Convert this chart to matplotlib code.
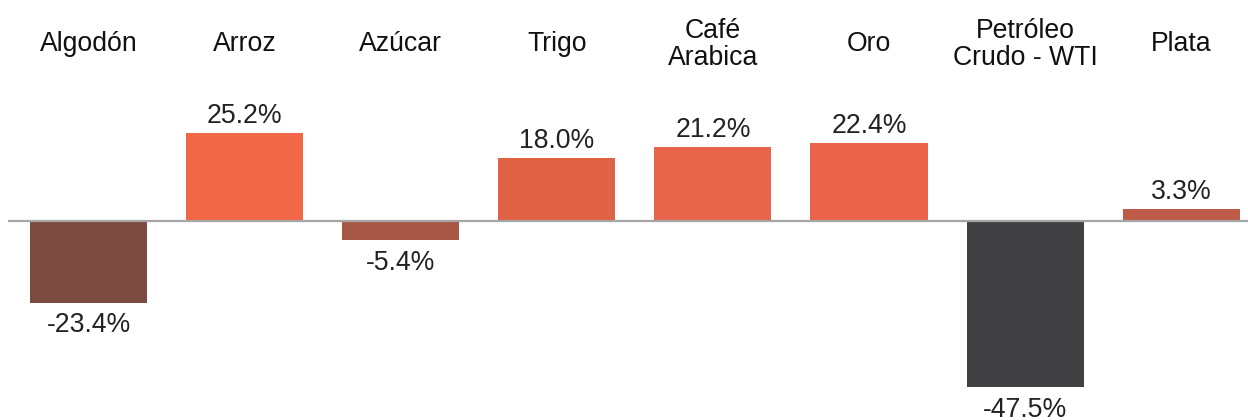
import matplotlib
matplotlib.use("Agg")
import matplotlib.pyplot as plt

categories = ["Algodón", "Arroz", "Azúcar", "Trigo", "Café\nArabica", "Oro",
              "Petróleo\nCrudo - WTI", "Plata"]
values = [-23.4, 25.2, -5.4, 18.0, 21.2, 22.4, -47.5, 3.3]
colors = ["#7B4B42", "#F26746", "#A85645", "#E06244", "#E8644A", "#E9644A",
          "#414042", "#BE5A48"]

plt.rcParams["font.family"] = ["Liberation Sans", "DejaVu Sans"]

fig = plt.figure(figsize=(12.48, 4.2), dpi=100)
ax = fig.add_axes([8 / 1248, 0, 1240 / 1248, 1])

x = range(len(values))
ax.bar(x, values, width=0.75, color=colors, zorder=2)
ax.axhline(0, color="#A6A6A6", linewidth=1.6, zorder=3)

ax.set_xlim(-0.516, 7.428)
ax.set_ylim(-57.0, 63.3)
ax.axis("off")

fs = 19.2
for i, v in enumerate(values):
    if v >= 0:
        ax.annotate(f"{v:.1f}%", (i, v), xytext=(0, 3), textcoords="offset points",
                    ha="center", va="bottom", fontsize=fs, color="#222222")
    else:
        ax.annotate(f"{v:.1f}%", (i, v), xytext=(0, -7), textcoords="offset points",
                    ha="center", va="top", fontsize=fs, color="#222222")
    ax.text(i, 0.895, categories[i], transform=ax.get_xaxis_transform(),
            ha="center", va="center", fontsize=fs, color="#111111", linespacing=1.05)

fig.savefig("out.png", dpi=100)
